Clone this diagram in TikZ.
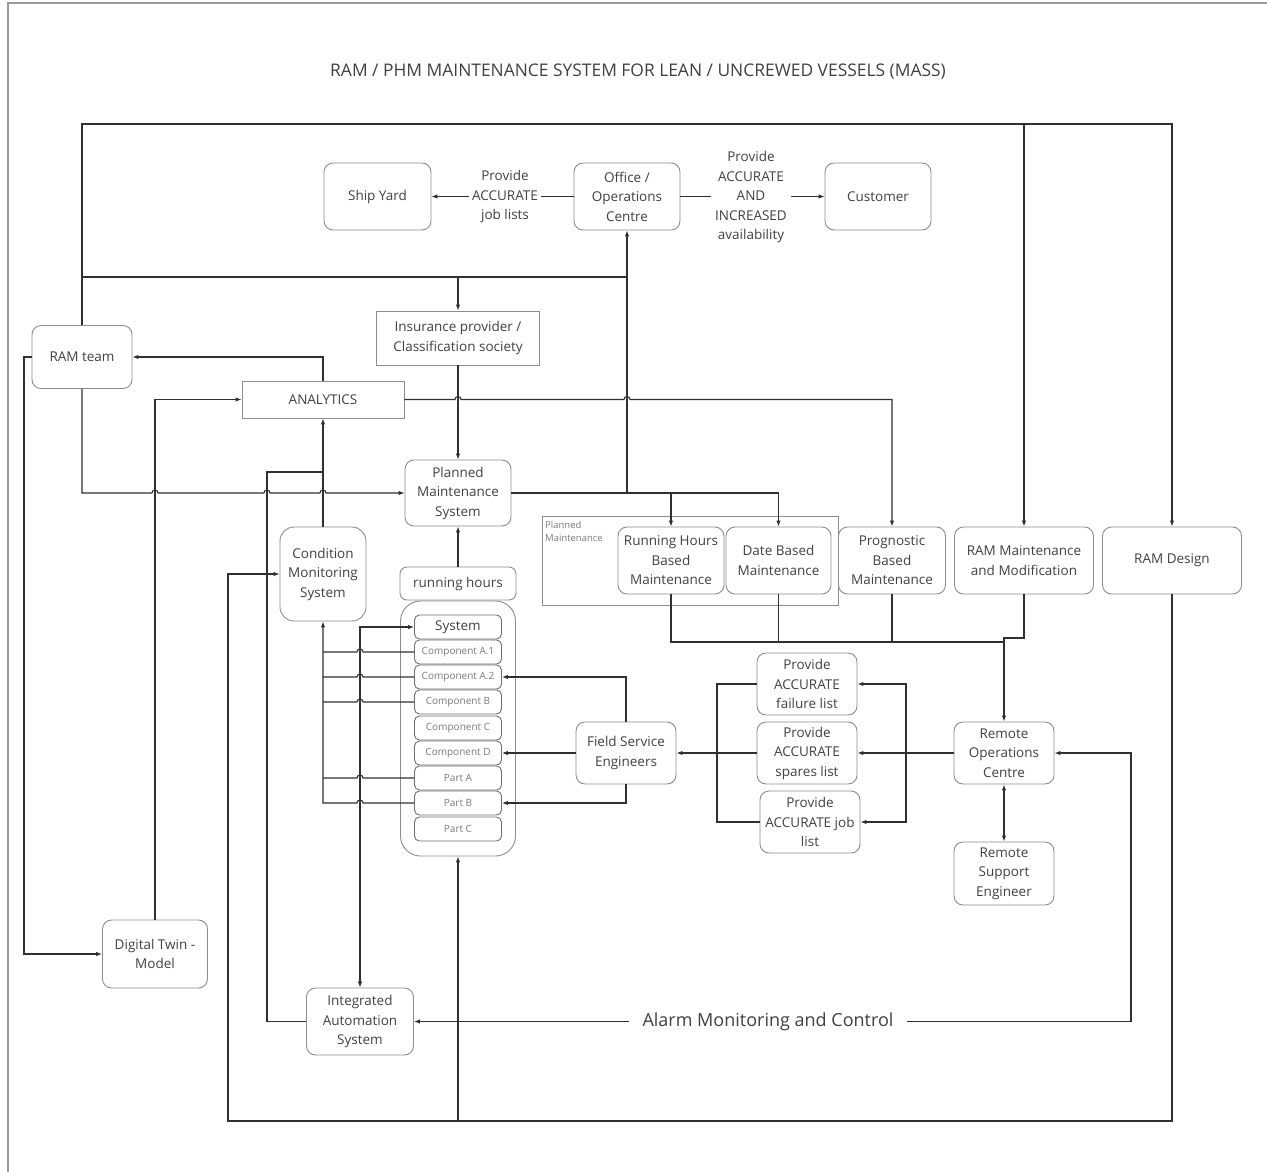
\documentclass[tikz,border=0pt]{standalone}
\usepackage{fontspec}
\setmainfont{Open Sans}
\usetikzlibrary{arrows.meta}
\definecolor{ink}{HTML}{303030}
\definecolor{txt}{HTML}{404040}
\definecolor{edge}{HTML}{8C8C8C}
\definecolor{soft}{HTML}{7A7A7A}
\definecolor{framegray}{HTML}{9A9A9A}
\begin{document}
\begin{tikzpicture}[x=1pt,y=-1pt,
  >={Latex[length=6pt,width=4.5pt]},
  conn/.style={draw=ink,line width=1.1pt},
  rbox/.style={draw=edge,line width=0.9pt,rounded corners=9pt,fill=white,text=txt,
    align=center,inner sep=0pt,font=\fontsize{13.5}{19.5}\selectfont},
  sbox/.style={rbox,rounded corners=0pt},
  part/.style={draw=ink!70,line width=0.9pt,rounded corners=5pt,fill=white,
    minimum width=87pt,minimum height=24pt,inner sep=0pt,text=soft,
    font=\fontsize{10}{12}\selectfont},
  lbl/.style={fill=white,text=txt,align=center,inner xsep=3pt,inner ysep=0pt,
    font=\fontsize{13.5}{19.5}\selectfont},
]
\useasboundingbox (0,0) rectangle (1267,1172);

% page frame
\draw[framegray,line width=1.3pt] (8,1172) -- (8,3) -- (1267,3);

% title
\node[text=txt,font=\fontsize{17.4}{20}\selectfont] (title) at (638,72)
  {RAM / PHM MAINTENANCE SYSTEM FOR LEAN / UNCREWED VESSELS (MASS)};

% ---------- nodes ----------
\node[rbox,minimum width=107pt,minimum height=67pt] (yard) at (377.5,196.5) {Ship Yard};
\node[rbox,minimum width=106pt,minimum height=67pt] (office) at (627,196.5) {Office /\\Operations\\Centre};
\node[rbox,minimum width=106pt,minimum height=67pt] (customer) at (878,196.5) {Customer};

\node[sbox,minimum width=163pt,minimum height=54pt] (insurance) at (458,338) {Insurance provider /\\Classification society};
\node[sbox,minimum width=162pt,minimum height=37pt] (analytics) at (323,399.5) {ANALYTICS};
\node[rbox,minimum width=100pt,minimum height=63pt] (ramteam) at (82,357) {RAM team};
\node[rbox,minimum width=106pt,minimum height=66pt] (pms) at (458,493) {Planned\\Maintenance\\System};
\node[rbox,minimum width=86pt,minimum height=94pt,rounded corners=14pt] (cms) at (323,574) {Condition\\Monitoring\\System};
\node[rbox,minimum width=116pt,minimum height=33pt,rounded corners=7pt] (runh) at (458,583.5) {running hours};

% asset breakdown
\node[draw=edge,line width=0.9pt,rounded corners=20pt,minimum width=115pt,minimum height=255pt] (stack) at (458,728.5) {};
\node[part,text=txt,font=\fontsize{13.5}{16}\selectfont] (sys) at (458,627) {System};
\node[part] (a1) at (458,652) {Component A.1};
\node[part] (a2) at (458,677) {Component A.2};
\node[part] (cb) at (458,702) {Component B};
\node[part] (cc) at (458,728) {Component C};
\node[part] (cd) at (458,753) {Component D};
\node[part] (pa) at (458,778) {Part A};
\node[part] (pb) at (458,803) {Part B};
\node[part] (pc) at (458,829) {Part C};

% planned maintenance group
\node[draw=edge,line width=0.9pt,minimum width=296pt,minimum height=89pt] (pmgroup) at (690,560.5) {};
\node[anchor=north west,text=soft,align=left,inner sep=0pt,font=\fontsize{9.5}{13.5}\selectfont] (pmlabel) at (545,521) {Planned\\Maintenance};
\node[rbox,minimum width=106pt,minimum height=67pt] (rhbm) at (671,560.5) {Running Hours\\Based\\Maintenance};
\node[rbox,minimum width=105pt,minimum height=67pt] (dbm) at (778.5,560.5) {Date Based\\Maintenance};
\node[rbox,minimum width=107pt,minimum height=67pt] (pbm) at (892,560.5) {Prognostic\\Based\\Maintenance};
\node[rbox,minimum width=139pt,minimum height=67pt] (rammod) at (1024,560.5) {RAM Maintenance\\and Modification};
\node[rbox,minimum width=139pt,minimum height=67pt] (ramdesign) at (1172,560.5) {RAM Design};

\node[rbox,minimum width=100pt,minimum height=62pt] (failure) at (807,684) {Provide\\ACCURATE\\failure list};
\node[rbox,minimum width=100pt,minimum height=62pt] (spares) at (807,753) {Provide\\ACCURATE\\spares list};
\node[rbox,minimum width=100pt,minimum height=62pt] (joblist) at (810,822) {Provide\\ACCURATE job\\list};
\node[rbox,minimum width=100pt,minimum height=62pt] (fse) at (626,753) {Field Service\\Engineers};
\node[rbox,minimum width=100pt,minimum height=62pt] (roc) at (1004,753) {Remote\\Operations\\Centre};
\node[rbox,minimum width=100pt,minimum height=63pt] (rse) at (1004,873.5) {Remote\\Support\\Engineer};
\node[rbox,minimum width=105pt,minimum height=68pt] (dt) at (155,954) {Digital Twin -\\Model};
\node[rbox,minimum width=107pt,minimum height=67pt] (ias) at (360,1021.5) {Integrated\\Automation\\System};

% ---------- connectors ----------
\coordinate (tl) at (82,124);
\coordinate (tr) at (1172,124);
\coordinate (bus) at (1004,642);

% top loop to RAM design and RAM maintenance
\draw[conn,->] (ramteam.north) -- (tl) -- (tr) -- (ramdesign.north);
\draw[conn,->] (1024,124) -- (rammod.north);

% feed to office and insurance
\draw[conn] (82,277) -- (627,277);
\draw[conn,->] (458,277) -- (insurance.north);
\draw[conn,->] (627,493) -- (office.south);

% office outputs
\draw[conn,->] (office.west) -- (yard.east);
\node[lbl] (joblbl) at (505,196.5) {Provide\\ACCURATE\\job lists};
\draw[conn,->] (office.east) -- (customer.west);
\node[lbl,inner xsep=4pt] (availlbl) at (751,197) {Provide\\ACCURATE\\AND\\INCREASED\\availability};

% insurance to planned maintenance
\draw[conn,->] (insurance.south) -- (pms.north);

% RAM team to planned maintenance system
\draw[conn,->] (ramteam.south) -- (82,493) -- (152,493)
  arc[start angle=180,end angle=360,radius=3] -- (264,493)
  arc[start angle=180,end angle=360,radius=3] -- (320,493)
  arc[start angle=180,end angle=360,radius=3] -- (pms.west);

% analytics to prognostic maintenance
\draw[conn,->] (analytics.east) -- (455,399.5)
  arc[start angle=180,end angle=360,radius=3] -- (624,399.5)
  arc[start angle=180,end angle=360,radius=3] -- (892,399.5) -- (pbm.north);

% analytics feedback to RAM team, RAM team to digital twin, twin to analytics
\draw[conn,->] (analytics.north) |- (ramteam.east);
\draw[conn,->] (ramteam.west) -- (24,357) |- (dt.west);
\draw[conn,->] (dt.north) |- (analytics.west);

% condition monitoring and automation to analytics
\draw[conn,->] (cms.north) -- (analytics.south);
\draw[conn] (ias.west) -| (267,472) -- (323,472);

% running hours to PMS
\draw[conn,->] (runh.north) -- (pms.south);

% PMS to planned maintenance types
\draw[conn,->] (pms.east) -- (pms.east -| dbm.north) -- (dbm.north);
\draw[conn,->] (pms.east -| rhbm.north) -- (rhbm.north);

% maintenance types to remote operations centre
\draw[conn] (rhbm.south) |- (bus);
\draw[conn] (dbm.south) -- (dbm.south |- bus);
\draw[conn] (pbm.south) -- (pbm.south |- bus);
\draw[conn,->] (rammod.south) |- (1004,638) -- (roc.north);
\draw[conn,<->] (roc.south) -- (rse.north);

% remote operations centre to the lists
\draw[conn,->] (roc.west) -- (spares.east);
\draw[conn,->] (906,753) |- (failure.east);
\draw[conn,->] (906,753) |- (joblist.east);

% lists to field service engineers
\draw[conn] (failure.west) -| (717,822) -- (joblist.west);
\draw[conn,->] (spares.west) -- (fse.east);

% field service engineers to the asset items
\draw[conn,->] (fse.north) |- (a2.east);
\draw[conn,->] (fse.west) -- (cd.east);
\draw[conn,->] (fse.south) |- (pb.east);

% automation system and system level
\draw[conn,<->] (sys.west) -| (ias.north);

% asset items to condition monitoring
\draw[conn] (a1.west) -- (363,652) arc[start angle=0,end angle=-180,radius=3] -- (323,652);
\draw[conn] (a2.west) -- (363,677) arc[start angle=0,end angle=-180,radius=3] -- (323,677);
\draw[conn] (cb.west) -- (363,702) arc[start angle=0,end angle=-180,radius=3] -- (323,702);
\draw[conn] (pa.west) -- (363,778) arc[start angle=0,end angle=-180,radius=3] -- (323,778);
\draw[conn,->] (pb.west) -- (363,803) arc[start angle=0,end angle=-180,radius=3] -- (323,803) -- (cms.south);

% RAM design feedback loop along the bottom
\draw[conn,->] (ramdesign.south) -- (1172,1121) -- (228,1121) -- (228,574) -- (cms.west);
\draw[conn,->] (458,1121) -- (stack.south);

% alarm monitoring and control
\draw[conn,<->] (ias.east) -- (1131,1021.5) |- (roc.east);
\node[fill=white,text=txt,inner xsep=14pt,inner ysep=2pt,font=\fontsize{18}{20}\selectfont] (alarm) at (768,1021.5) {Alarm Monitoring and Control};

\end{tikzpicture}
\end{document}
